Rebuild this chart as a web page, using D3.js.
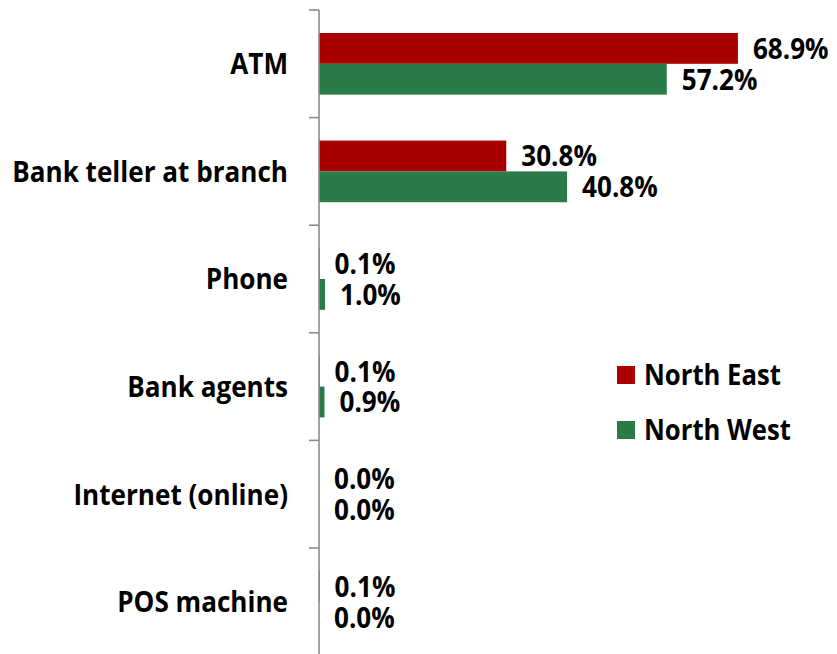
<!DOCTYPE html>
<html>
<head>
<meta charset="utf-8">
<script src="https://cdn.jsdelivr.net/npm/d3@7"></script>
<style>
  html, body { margin: 0; padding: 0; background: #fff; }
  svg { display: block; }
</style>
</head>
<body>
<svg id="chart" width="837" height="654"></svg>
<script>
const categories = ['ATM', 'Bank teller at branch', 'Phone', 'Bank agents', 'Internet (online)', 'POS machine']
const seriesNames = ['North East', 'North West']
const northEast = [68.9, 30.8, 0.1, 0.1, 0.0, 0.1]
const northWest = [57.2, 40.8, 1.0, 0.9, 0.0, 0.0]
const seriesColors = ['#a80000', '#2b7b48']

const chartHeight = 654
const axisX = 319
const topY = 10
const squash = 0.9
const fontFamily = '"Open Sans", "Liberation Sans", sans-serif'

const svg = d3.select('#chart')

const x = d3.scaleLinear().domain([0, 80]).range([axisX, axisX + 80 * 6.08])

const step = 107.6
const y = d3.scaleBand()
  .domain(categories)
  .range([topY, topY + step * categories.length])
  .paddingInner(0.427)
  .paddingOuter(0.2135)

const ySub = d3.scaleBand()
  .domain(seriesNames)
  .range([0, y.bandwidth()])

const color = d3.scaleOrdinal().domain(seriesNames).range(seriesColors)

const rows = categories.map((c, i) => ({
  category: c,
  values: [
    { series: seriesNames[0], value: northEast[i] },
    { series: seriesNames[1], value: northWest[i] }
  ]
}))

function squashText(sel, tx, ty) {
  sel.attr('transform', (d, i) => `translate(${tx(d, i)}, ${ty(d, i)}) scale(${squash}, 1)`)
}

// bars
const groups = svg.append('g').selectAll('.cat')
  .data(rows)
  .enter().append('g')
  .attr('class', 'cat')
  .attr('transform', d => `translate(0, ${y(d.category)})`)

groups.selectAll('rect')
  .data(d => d.values)
  .enter().append('rect')
  .attr('x', x(0))
  .attr('y', d => ySub(d.series))
  .attr('width', d => x(d.value) - x(0))
  .attr('height', ySub.bandwidth())
  .attr('fill', d => color(d.series))

groups.selectAll('.val')
  .data(d => d.values)
  .enter().append('text')
  .attr('class', 'val')
  .attr('font-family', fontFamily)
  .attr('font-weight', 'bold')
  .attr('font-size', 29)
  .attr('fill', '#000')
  .attr('text-anchor', 'start')
  .attr('dy', '0.36em')
  .text(d => d.value.toFixed(1) + '%')
  .call(squashText, d => x(d.value) + 15, d => ySub(d.series) + ySub.bandwidth() / 2)

// axis
const axisG = svg.append('g')
axisG.append('line')
  .attr('x1', axisX).attr('x2', axisX)
  .attr('y1', topY).attr('y2', chartHeight + 2)
  .attr('stroke', '#8c8c8c')
  .attr('stroke-width', 1.6)

const boundaries = d3.range(categories.length + 1).map(i => topY + i * y.step())
axisG.selectAll('.tick')
  .data(boundaries)
  .enter().append('line')
  .attr('class', 'tick')
  .attr('x1', axisX - 10).attr('x2', axisX)
  .attr('y1', d => d).attr('y2', d => d)
  .attr('stroke', '#8c8c8c')
  .attr('stroke-width', 1.6)

axisG.selectAll('.cat-label')
  .data(categories)
  .enter().append('text')
  .attr('class', 'cat-label')
  .attr('font-family', fontFamily)
  .attr('font-weight', 'bold')
  .attr('font-size', 29)
  .attr('fill', '#000')
  .attr('text-anchor', 'end')
  .attr('dy', '0.36em')
  .text(d => d)
  .call(squashText, () => axisX - 31, d => y(d) + y.bandwidth() / 2)

// legend
const legend = svg.append('g').selectAll('.legend')
  .data(seriesNames)
  .enter().append('g')
  .attr('class', 'legend')
  .attr('transform', (d, i) => `translate(617, ${366 + i * 55})`)

legend.append('rect')
  .attr('width', 18)
  .attr('height', 18)
  .attr('fill', d => color(d))

legend.append('text')
  .attr('font-family', fontFamily)
  .attr('font-weight', 'bold')
  .attr('font-size', 28.5)
  .attr('fill', '#000')
  .attr('dy', '0.36em')
  .text(d => d)
  .call(squashText, () => 27, () => 9)
</script>
</body>
</html>
